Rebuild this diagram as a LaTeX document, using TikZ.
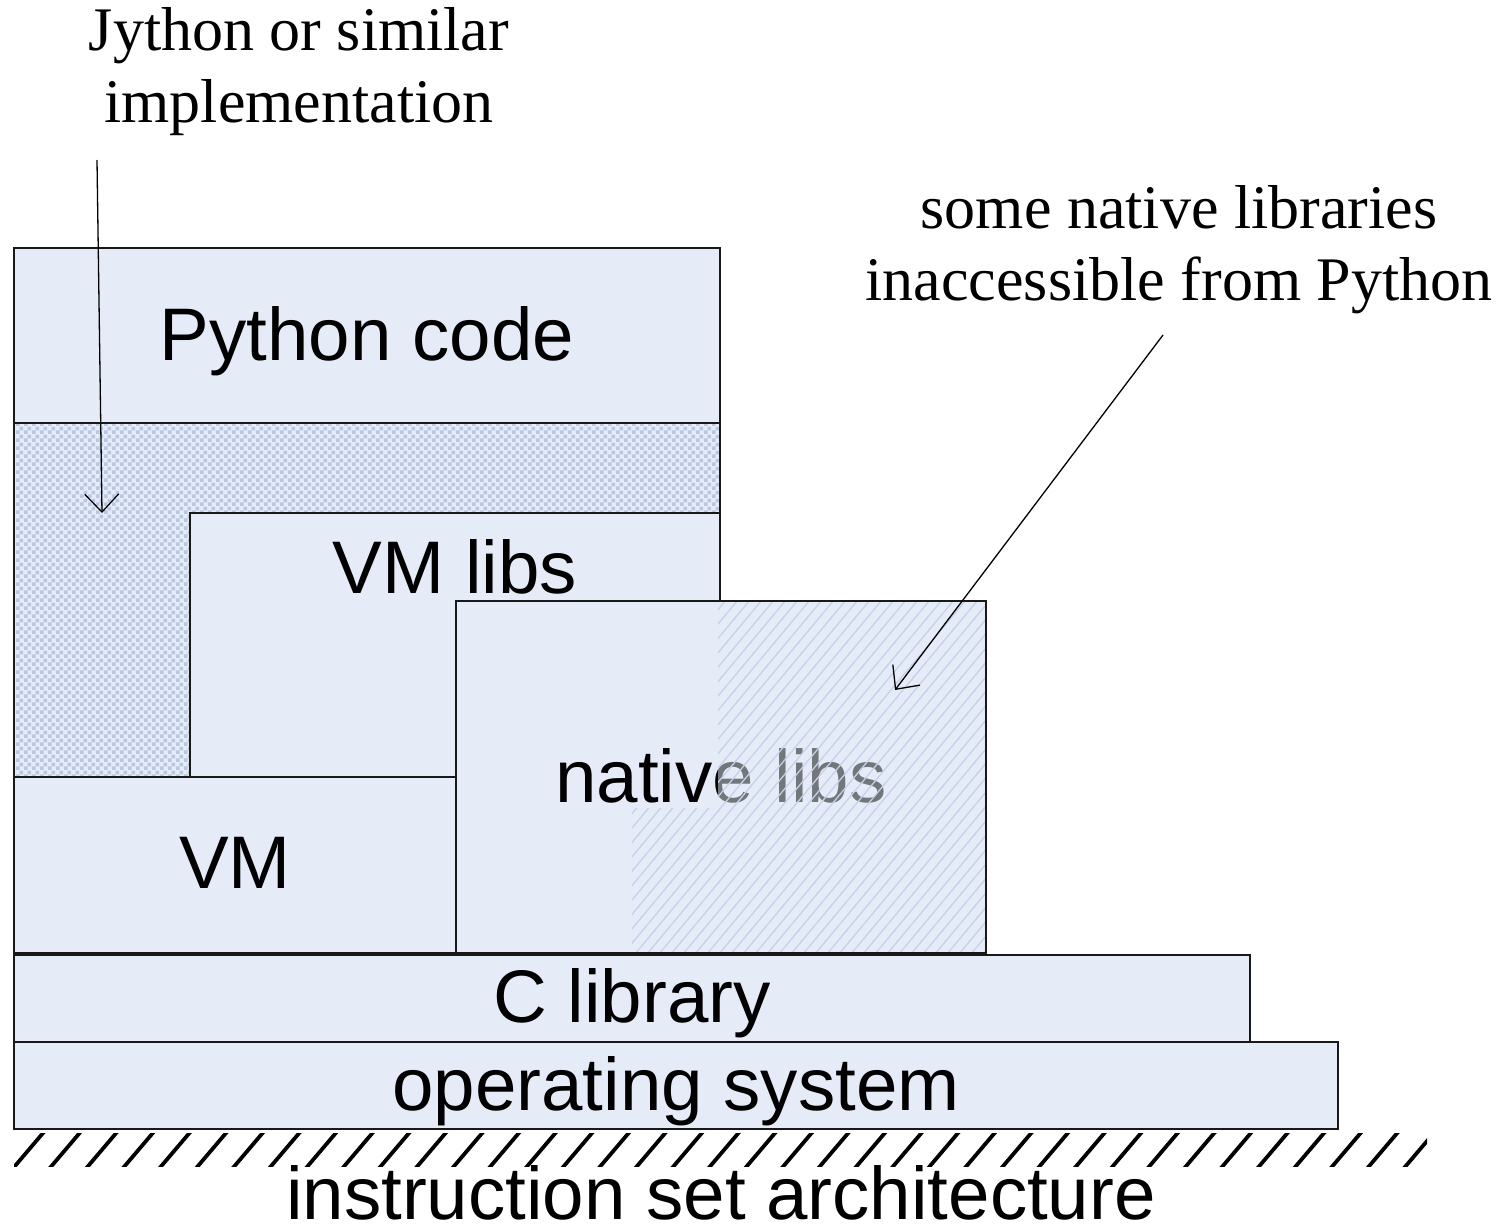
\documentclass[tikz,border=0pt]{standalone}
\usepackage{fontspec}
\setmainfont{Liberation Serif}
\setsansfont{Liberation Sans}
\usetikzlibrary{arrows.meta,patterns}

\definecolor{layerfill}{RGB}{230,236,247}
\definecolor{checkblue}{RGB}{184,200,228}
\definecolor{hatchblue}{RGB}{196,209,235}
\definecolor{edge}{RGB}{25,25,25}

% checker tile with 4pt cells for the implementation layer
\pgfdeclarepatternformonly{coarsechecker}{\pgfpointorigin}{\pgfqpoint{8pt}{8pt}}{\pgfqpoint{8pt}{8pt}}{%
  \pgfpathrectangle{\pgfpointorigin}{\pgfqpoint{4pt}{4pt}}%
  \pgfpathrectangle{\pgfqpoint{4pt}{4pt}}{\pgfqpoint{4pt}{4pt}}%
  \pgfusepath{fill}}

\tikzset{
  layer/.style={draw=edge, line width=2pt, fill=layerfill, inner sep=0pt, outer sep=0pt},
  layertext/.style={font=\sffamily\fontsize{74.5}{80}\selectfont, inner sep=0pt, anchor=base},
  note/.style={font=\rmfamily\fontsize{62}{72}\selectfont, align=center, inner sep=0pt, anchor=base},
  pointer/.style={line width=1.3pt, -{Straight Barb[length=18pt,width=34pt,line width=1.3pt]}},
}

\begin{document}
\begin{tikzpicture}[x=1pt,y=-1pt]
\useasboundingbox (0,0) rectangle (1501,1226);

% annotations (anchored at the baseline of their last line)
\node[note] (jynote) at (299,122) {Jython or similar\\implementation};
\node[note] (nlnote) at (1179,300) {some native libraries\\inaccessible from Python};

% software stack
\node[layer, minimum width=706pt, minimum height=175pt] (python) at (367,335.5) {};
\node[layer, minimum width=706pt, minimum height=354pt,
      preaction={fill=layerfill}, pattern=coarsechecker, pattern color=checkblue] (jython) at (367,600) {};
\node[layer, minimum width=530pt, minimum height=264pt] (vmlibs) at (455,645) {};
\node[layer, minimum width=530pt, minimum height=352pt] (native) at (721,777) {};
\node[layertext] (nativetext) at (721,802) {native libs};

% part of the native libraries that Python cannot reach
\begin{scope}
  \clip (718,601) -- (986,601) -- (986,953) -- (632,953) -- (632,808) -- (718,808) -- cycle;
  \fill[layerfill, opacity=0.5] (600,590) rectangle (1000,960);
  \foreach \k in {0,...,58}
    \draw[hatchblue, line width=1.3pt] ({330+12*\k},960) -- ({630+12*\k},600);
\end{scope}
\draw[edge, line width=2pt] (native.south west) rectangle (native.north east);

\node[layer, minimum width=442pt, minimum height=176pt] (vm) at (235,865) {};
\node[layer, minimum width=1236pt, minimum height=87pt] (clib) at (632,998.5) {};
\node[layer, minimum width=1324pt, minimum height=87pt] (os) at (676,1085.5) {};

% layer labels
\node[layertext] (pythontext) at (367,360) {Python code};
\node[layertext] (vmlibstext) at (455,593) {VM libs};
\node[layertext] (vmtext) at (235,888) {VM};
\node[layertext] (clibtext) at (632,1022) {C library};
\node[layertext] (ostext) at (676,1110) {operating system};

% hardware ground line
\begin{scope}
  \clip (14,1133) rectangle (1427,1166);
  \foreach \k in {0,...,39}
    \draw[black, line width=3.8pt] ({12+36.6*\k},1169.5) -- ({46+36.6*\k},1129.5);
\end{scope}
\node[layertext] (isatext) at (721,1219) {instruction set architecture};

% pointers
\coordinate (jyfoot) at (97,160);
\coordinate (jytip) at (102,513);
\draw[pointer] (jyfoot) -- (jytip);
\coordinate (nlfoot) at (1163,335);
\coordinate (nltip) at (895,690);
\draw[pointer] (nlfoot) -- (nltip);
\end{tikzpicture}
\end{document}
